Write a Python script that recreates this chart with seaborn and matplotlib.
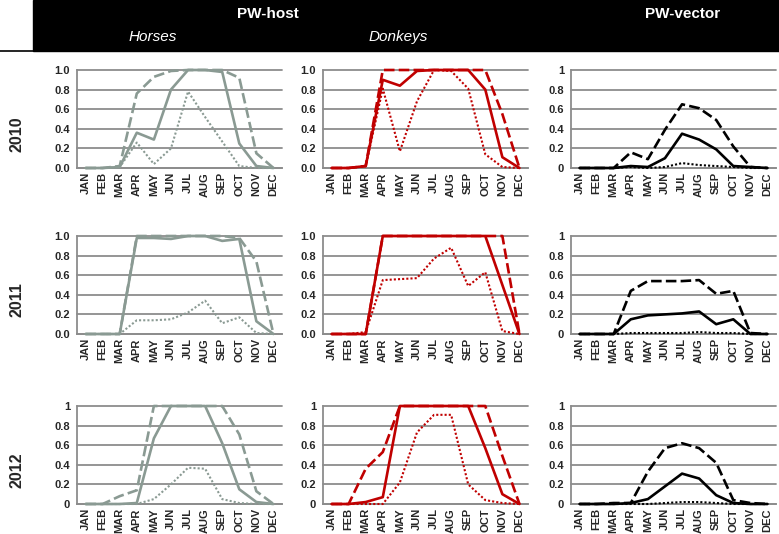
import pandas as pd
import seaborn as sns
import matplotlib.pyplot as plt
from matplotlib.patches import Rectangle
from matplotlib.lines import Line2D
from matplotlib.ticker import FormatStrFormatter

months = ['JAN', 'FEB', 'MAR', 'APR', 'MAY', 'JUN', 'JUL', 'AUG', 'SEP', 'OCT', 'NOV', 'DEC']
years = ['2010', '2011', '2012']

# PW-host, horses (grey)
horses_2010_solid = [0, 0, 0.01, 0.36, 0.29, 0.80, 1.0, 1.0, 0.98, 0.25, 0.02, 0]
horses_2010_dashed = [0, 0, 0.02, 0.76, 0.93, 0.99, 1.0, 1.0, 1.0, 0.92, 0.15, 0]
horses_2010_dotted = [0, 0, 0.01, 0.26, 0.04, 0.20, 0.78, 0.52, 0.27, 0.02, 0, 0]
horses_2011_solid = [0, 0, 0, 0.98, 0.98, 0.97, 1.0, 1.0, 0.95, 0.97, 0.13, 0]
horses_2011_dashed = [0, 0, 0, 1.0, 1.0, 1.0, 1.0, 1.0, 1.0, 0.98, 0.74, 0]
horses_2011_dotted = [0, 0, 0, 0.14, 0.14, 0.15, 0.22, 0.34, 0.11, 0.17, 0.01, 0]
horses_2012_solid = [0, 0, 0, 0.01, 0.67, 1.0, 1.0, 1.0, 0.62, 0.15, 0.02, 0]
horses_2012_dashed = [0, 0, 0.08, 0.14, 1.0, 1.0, 1.0, 1.0, 1.0, 0.71, 0.13, 0]
horses_2012_dotted = [0, 0, 0, 0, 0.05, 0.20, 0.37, 0.36, 0.05, 0.01, 0, 0]

# PW-host, donkeys (red)
donkeys_2010_solid = [0, 0, 0.02, 0.90, 0.84, 0.99, 1.0, 1.0, 1.0, 0.80, 0.11, 0]
donkeys_2010_dashed = [0, 0, 0.02, 1.0, 1.0, 1.0, 1.0, 1.0, 1.0, 1.0, 0.55, 0]
donkeys_2010_dotted = [0, 0, 0.02, 0.81, 0.17, 0.68, 1.0, 0.99, 0.81, 0.14, 0.01, 0]
donkeys_2011_solid = [0, 0, 0, 1.0, 1.0, 1.0, 1.0, 1.0, 1.0, 1.0, 0.50, 0]
donkeys_2011_dashed = [0, 0, 0, 1.0, 1.0, 1.0, 1.0, 1.0, 1.0, 1.0, 1.0, 0]
donkeys_2011_dotted = [0, 0, 0.02, 0.55, 0.56, 0.57, 0.77, 0.88, 0.49, 0.63, 0.03, 0]
donkeys_2012_solid = [0, 0, 0.02, 0.07, 1.0, 1.0, 1.0, 1.0, 1.0, 0.57, 0.10, 0]
donkeys_2012_dashed = [0, 0, 0.36, 0.53, 1.0, 1.0, 1.0, 1.0, 1.0, 1.0, 0.49, 0]
donkeys_2012_dotted = [0, 0, 0, 0, 0.22, 0.73, 0.91, 0.91, 0.20, 0.04, 0.01, 0]

# PW-vector (black)
vector_2010_solid = [0, 0, 0, 0.02, 0.01, 0.10, 0.35, 0.29, 0.19, 0.02, 0.01, 0]
vector_2010_dashed = [0, 0, 0, 0.16, 0.09, 0.39, 0.65, 0.61, 0.49, 0.22, 0.01, 0]
vector_2010_dotted = [0, 0, 0, 0.01, 0, 0.01, 0.05, 0.03, 0.02, 0.01, 0, 0]
vector_2011_solid = [0, 0, 0, 0.15, 0.19, 0.20, 0.21, 0.23, 0.10, 0.15, 0, 0]
vector_2011_dashed = [0, 0, 0, 0.44, 0.54, 0.54, 0.54, 0.55, 0.41, 0.44, 0.01, 0]
vector_2011_dotted = [0, 0, 0, 0.01, 0.01, 0.01, 0.01, 0.02, 0.01, 0.01, 0, 0]
vector_2012_solid = [0, 0, 0, 0.01, 0.05, 0.18, 0.31, 0.26, 0.09, 0.01, 0, 0]
vector_2012_dashed = [0, 0, 0.01, 0.01, 0.33, 0.57, 0.62, 0.57, 0.42, 0.04, 0.01, 0]
vector_2012_dotted = [0, 0, 0, 0, 0, 0.01, 0.02, 0.02, 0.01, 0, 0, 0]

panels = [
    [(horses_2010_solid, horses_2010_dashed, horses_2010_dotted),
     (donkeys_2010_solid, donkeys_2010_dashed, donkeys_2010_dotted),
     (vector_2010_solid, vector_2010_dashed, vector_2010_dotted)],
    [(horses_2011_solid, horses_2011_dashed, horses_2011_dotted),
     (donkeys_2011_solid, donkeys_2011_dashed, donkeys_2011_dotted),
     (vector_2011_solid, vector_2011_dashed, vector_2011_dotted)],
    [(horses_2012_solid, horses_2012_dashed, horses_2012_dotted),
     (donkeys_2012_solid, donkeys_2012_dashed, donkeys_2012_dotted),
     (vector_2012_solid, vector_2012_dashed, vector_2012_dotted)],
]
colors = ['#8A9A93', '#C00000', '#000000']

sns.set_style('white')
plt.rcParams['font.family'] = ['Liberation Sans Narrow', 'Liberation Sans', 'DejaVu Sans']

W, H = 779, 534
fig = plt.figure(figsize=(W / 100, H / 100), dpi=100)

# header band
fig.patches.append(Rectangle((33 / W, 1 - 51 / H), 1 - 33 / W, 51 / H, transform=fig.transFigure,
                             color='black', zorder=0))
fig.lines.append(Line2D([0, 1], [1 - 50.5 / H, 1 - 50.5 / H], transform=fig.transFigure, color='black', lw=1.2))
fig.text(268 / W, 1 - 14 / H, 'PW-host', color='white', fontweight='bold', fontsize=11, ha='center', va='center')
fig.text(683 / W, 1 - 14 / H, 'PW-vector', color='white', fontweight='bold', fontsize=11, ha='center', va='center')
fig.text(153 / W, 1 - 37 / H, 'Horses', color='white', fontstyle='italic', fontsize=11, ha='center', va='center')
fig.text(398 / W, 1 - 37 / H, 'Donkeys', color='white', fontstyle='italic', fontsize=11, ha='center', va='center')

col_left = [77, 323, 571]
col_right = [282, 528, 776]
row_top = [70, 236, 406]
row_bot = [168, 334, 504]
label_y = [134, 300, 470]
grid_c = '#8C8C8C'
x = list(range(12))

for r in range(3):
    fig.text(17 / W, 1 - label_y[r] / H, years[r], rotation=90, fontweight='bold', fontsize=11.5,
             ha='center', va='center')
    for c in range(3):
        ax = fig.add_axes([col_left[c] / W, 1 - row_bot[r] / H,
                           (col_right[c] - col_left[c]) / W, (row_bot[r] - row_top[r]) / H])
        solid, dashed, dotted = panels[r][c]
        sns.lineplot(x=x, y=dashed, ax=ax, color=colors[c], lw=1.9)
        ax.lines[-1].set_dashes((4, 1.6))
        sns.lineplot(x=x, y=dotted, ax=ax, color=colors[c], lw=1.5)
        ax.lines[-1].set_dashes((1, 1))
        sns.lineplot(x=x, y=solid, ax=ax, color=colors[c], lw=1.9)
        for ln in ax.lines:
            ln.set_clip_on(False)
            ln.set_zorder(3)

        ax.set_xlim(-0.5, 11.5)
        ax.set_ylim(0, 1)
        ax.set_yticks([0, 0.2, 0.4, 0.6, 0.8, 1.0])
        if r < 2 and c < 2:
            ax.yaxis.set_major_formatter(FormatStrFormatter('%.1f'))
        else:
            ax.yaxis.set_major_formatter(FormatStrFormatter('%g'))
        ax.set_xticks(x)
        ax.set_xticklabels(months, rotation=90)
        ax.set_xticks([i - 0.5 for i in range(13)], minor=True)
        ax.tick_params(axis='x', which='major', length=0, pad=3)
        ax.tick_params(axis='x', which='minor', length=3.5, width=1, color=grid_c, direction='out')
        ax.tick_params(axis='y', length=3, width=1, color=grid_c, direction='out', pad=2)
        for lab in ax.get_xticklabels() + ax.get_yticklabels():
            lab.set_fontweight('bold')
            lab.set_fontsize(8)
        ax.grid(axis='y', color=grid_c, lw=1.3)
        ax.grid(axis='x', visible=False)
        for gl in ax.get_ygridlines():
            gl.set_clip_on(False)
        ax.set_axisbelow(True)
        ax.set_xlabel('')
        ax.set_ylabel('')
        for s in ['top', 'right']:
            ax.spines[s].set_visible(False)
        for s in ['left', 'bottom']:
            ax.spines[s].set_color(grid_c)
            ax.spines[s].set_linewidth(1.3)

fig.savefig('out.png', dpi=100)
